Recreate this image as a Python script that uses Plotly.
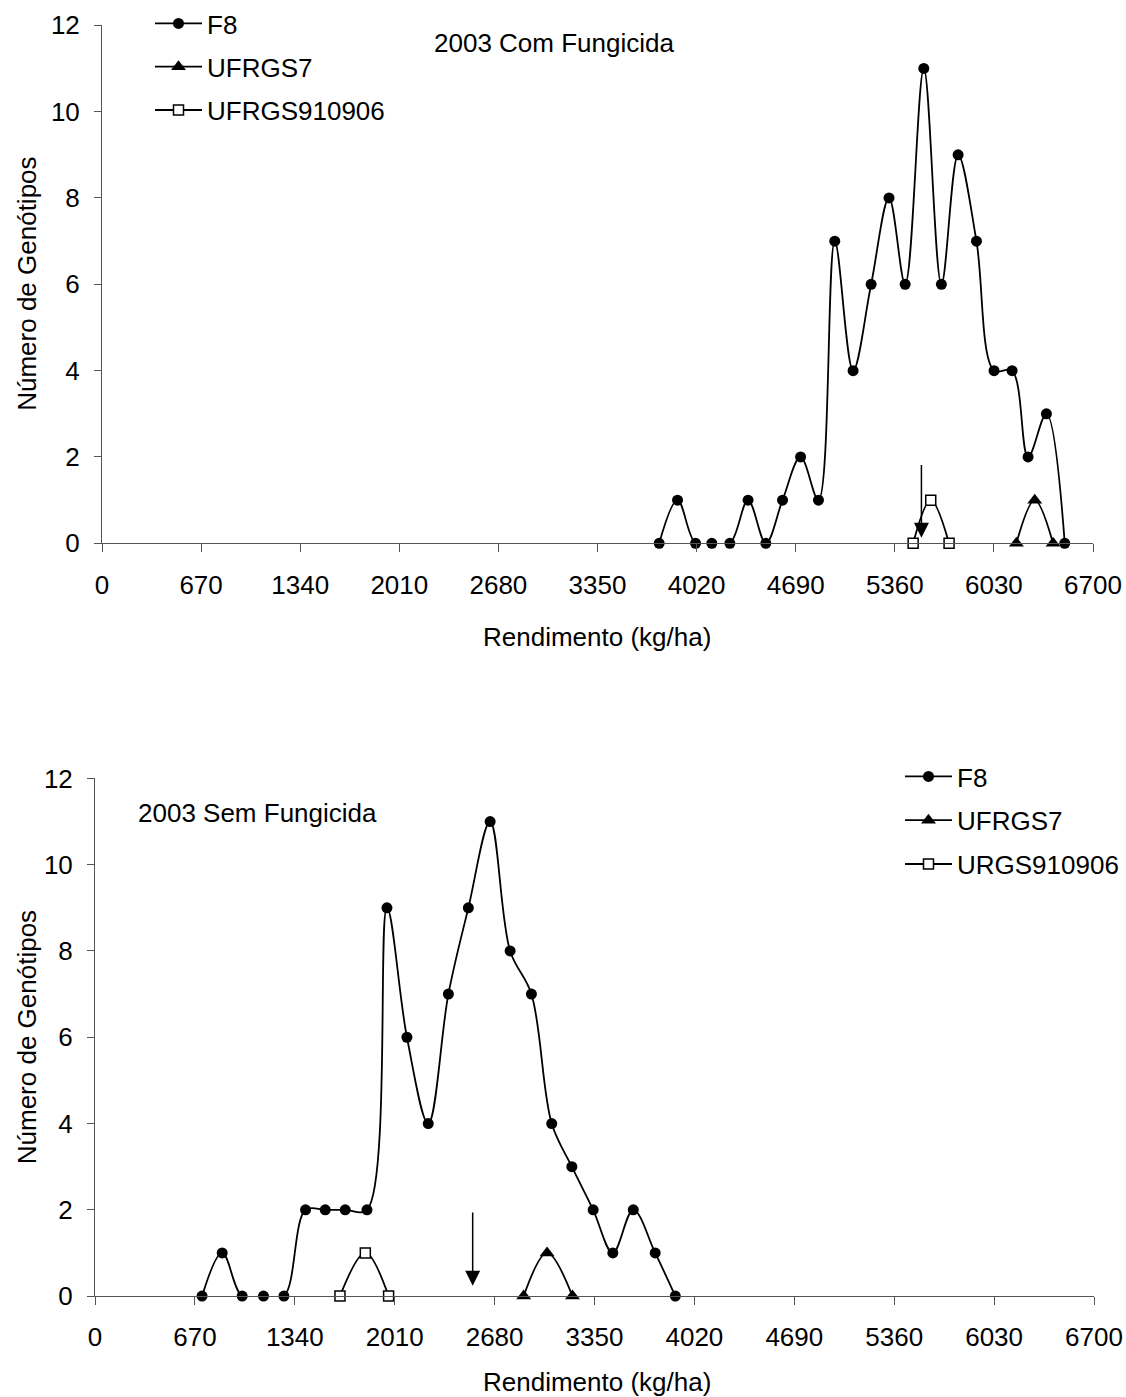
import plotly.graph_objects as go

# ---------------- data ----------------
x_ticks = [0, 670, 1340, 2010, 2680, 3350, 4020, 4690, 5360, 6030, 6700]
y_ticks = [0, 2, 4, 6, 8, 10, 12]

# 2003 Com Fungicida
com_f8_x = [3767, 3891, 4013, 4123, 4245, 4368, 4488, 4601, 4723, 4844, 4954, 5078,
            5200, 5321, 5430, 5556, 5675, 5788, 5912, 6031, 6153, 6261, 6385, 6509]
com_f8_y = [0, 1, 0, 0, 0, 1, 0, 1, 2, 1, 7, 4, 6, 8, 6, 11, 6, 9, 7, 4, 4, 2, 3, 0]
com_u7_x = [6182, 6306, 6430]
com_u7_y = [0, 1, 0]
com_u9_x = [5484, 5603, 5727]
com_u9_y = [0, 1, 0]
com_arrow_x = 5540
com_arrow_y = [1.85, 0.13]  # tail, tip

# 2003 Sem Fungicida
sem_f8_x = [718, 853, 987, 1130, 1267, 1412, 1544, 1678, 1824, 1958, 2092, 2235,
            2370, 2504, 2650, 2784, 2927, 3063, 3198, 3341, 3473, 3610, 3757, 3892]
sem_f8_y = [0, 1, 0, 0, 0, 2, 2, 2, 2, 9, 6, 4, 7, 9, 11, 8, 7, 4, 3, 2, 1, 2, 1, 0]
sem_u7_x = [2875, 3032, 3202]
sem_u7_y = [0, 1, 0]
sem_u9_x = [1643, 1813, 1969]
sem_u9_y = [0, 1, 0]
sem_arrow_x = 2533
sem_arrow_y = [1.97, 0.24]

top_names = ["F8", "UFRGS7", "UFRGS910906"]
bot_names = ["F8", "UFRGS7", "URGS910906"]
title_top = "2003 Com Fungicida"
title_bot = "2003 Sem Fungicida"
x_title = "Rendimento (kg/ha)"
y_title = "Número de Genótipos"

# ---------------- figure ----------------
W, H = 1126, 1397
FONT = "Liberation Sans, Arial, sans-serif"
FS = 26

def px(v):
    return v / W

def py(v):
    return 1 - v / H

fig = go.Figure()

line = dict(color="black", width=1.8, shape="spline", smoothing=1)
styles = [
    dict(symbol="circle", size=11, color="black", line=dict(width=0)),
    dict(symbol="triangle-up", size=13, color="black", line=dict(width=0)),
    dict(symbol="square", size=10, color="white", line=dict(color="black", width=1.5)),
]

top_series = [(com_f8_x, com_f8_y), (com_u7_x, com_u7_y), (com_u9_x, com_u9_y)]
bot_series = [(sem_f8_x, sem_f8_y), (sem_u7_x, sem_u7_y), (sem_u9_x, sem_u9_y)]

for i, ((xs, ys), name) in enumerate(zip(top_series, top_names)):
    fig.add_trace(go.Scatter(x=xs, y=ys, mode="lines+markers", name=name, line=line,
                             marker=styles[i], xaxis="x", yaxis="y", legend="legend",
                             legendgroup="t%d" % i, cliponaxis=False))
for i, ((xs, ys), name) in enumerate(zip(bot_series, bot_names)):
    fig.add_trace(go.Scatter(x=xs, y=ys, mode="lines+markers", name=name, line=line,
                             marker=styles[i], xaxis="x2", yaxis="y2", legend="legend2",
                             legendgroup="b%d" % i, cliponaxis=False))

axis_common = dict(showline=True, linecolor="#555555", linewidth=1, ticks="outside",
                   tickcolor="#555555", ticklen=8, tickwidth=1, showgrid=False,
                   zeroline=False, automargin=False,
                   tickfont=dict(family=FONT, size=FS, color="black"))

xaxis_common = dict(axis_common, range=[0, 6700], tickvals=x_ticks,
                    ticktext=[str(v) for v in x_ticks], ticklabelstandoff=10)
yaxis_common = dict(axis_common, range=[0, 12], tickvals=y_ticks, ticklen=7,
                    ticklabelstandoff=9)

fig.update_layout(
    width=W, height=H,
    margin=dict(l=0, r=0, t=0, b=0),
    template="none",
    paper_bgcolor="white", plot_bgcolor="white",
    font=dict(family=FONT, size=FS, color="black"),
    xaxis=dict(xaxis_common, domain=[px(102), px(1093)], anchor="y"),
    yaxis=dict(yaxis_common, domain=[py(542.7), py(24.3)], anchor="x"),
    xaxis2=dict(xaxis_common, domain=[px(95), px(1094)], anchor="y2"),
    yaxis2=dict(yaxis_common, domain=[py(1296), py(778)], anchor="x2"),
    legend=dict(x=px(150), y=py(-1.5), xanchor="left", yanchor="top", tracegroupgap=6.5,
                itemwidth=47, bgcolor="rgba(0,0,0,0)", font=dict(family=FONT, size=FS)),
    legend2=dict(x=px(900), y=py(753), xanchor="left", yanchor="top", tracegroupgap=7,
                 itemwidth=47, bgcolor="rgba(0,0,0,0)", font=dict(family=FONT, size=FS)),
    showlegend=True,
)

ann = []
ann.append(dict(text=title_top, xref="paper", yref="paper", x=px(432), y=py(42),
                xanchor="left", yanchor="middle", showarrow=False))
ann.append(dict(text=title_bot, xref="paper", yref="paper", x=px(136), y=py(813),
                xanchor="left", yanchor="middle", showarrow=False))
for yc in (636, 1382):
    ann.append(dict(text=x_title, xref="paper", yref="paper", x=px(597), y=py(yc),
                    xanchor="center", yanchor="middle", showarrow=False))
for yc in (283, 1037):
    ann.append(dict(text=y_title, xref="paper", yref="paper", x=px(27), y=py(yc),
                    xanchor="center", yanchor="middle", textangle=-90, showarrow=False))
# arrows
ann.append(dict(text="", x=com_arrow_x, y=com_arrow_y[1], ax=com_arrow_x, ay=com_arrow_y[0],
                xref="x", yref="y", axref="x", ayref="y", showarrow=True,
                arrowhead=2, arrowsize=2, arrowwidth=1.5, arrowcolor="black"))
ann.append(dict(text="", x=sem_arrow_x, y=sem_arrow_y[1], ax=sem_arrow_x, ay=sem_arrow_y[0],
                xref="x2", yref="y2", axref="x2", ayref="y2", showarrow=True,
                arrowhead=2, arrowsize=2, arrowwidth=1.5, arrowcolor="black"))
fig.update_layout(annotations=ann)

fig.write_html("out.html", config={"displayModeBar": False},
               post_script="document.body.style.margin='0';document.body.style.overflow='hidden';")
